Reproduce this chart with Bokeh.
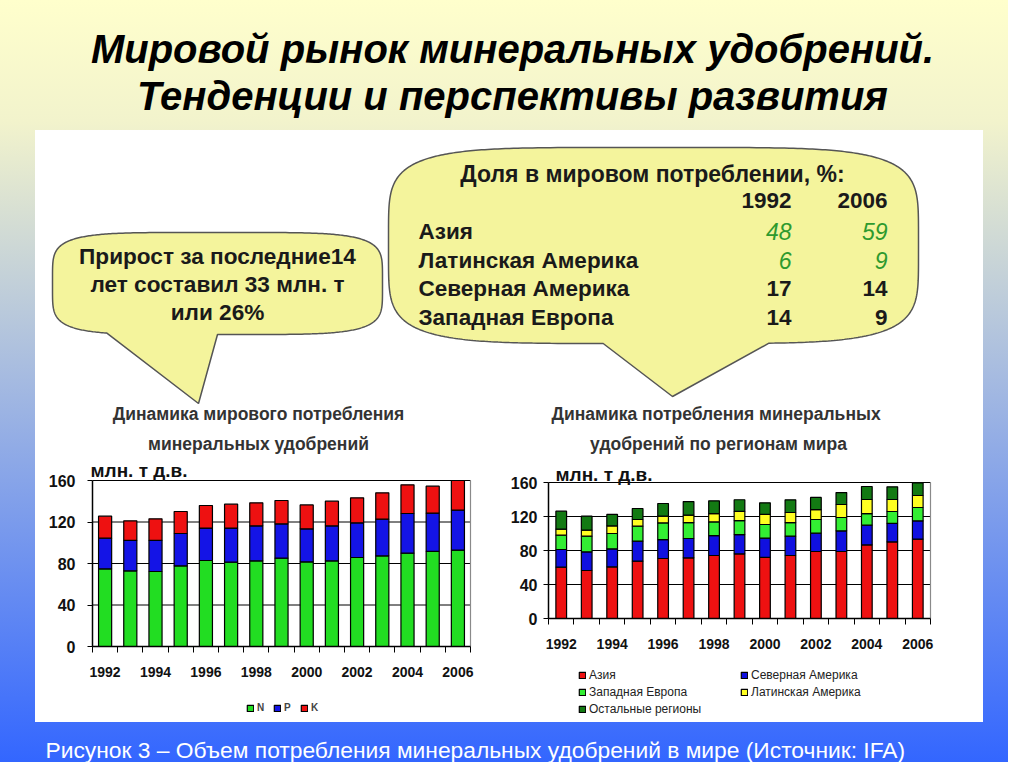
import numpy as np
from bokeh.plotting import figure
from bokeh.models import Range1d, FixedTicker, Label, Legend, LegendItem, Spacer, ColumnDataSource
from bokeh.layouts import column, row
from bokeh.core.properties import value
from bokeh.embed import file_html
from bokeh.resources import INLINE

# ---------------- data ----------------
years = list(range(1992, 2007))
year_labels = [1992, 1994, 1996, 1998, 2000, 2002, 2004, 2006]
y_ticks = [0, 40, 80, 120, 160]

nitrogen = [74.9, 72.9, 72.3, 77.8, 82.9, 81.3, 82.6, 85.1, 81.6, 82.6, 85.8, 87.4, 90.0, 91.6, 92.9]
phosphate = [29.5, 29.3, 29.9, 31.1, 31.2, 32.8, 33.7, 33.1, 31.8, 33.7, 33.4, 35.3, 38.2, 36.9, 38.5]
potash = [21.2, 18.9, 20.9, 21.2, 21.8, 23.1, 22.2, 22.5, 23.1, 23.8, 24.1, 25.4, 27.6, 26.0, 28.6]
nutrient_names = ["N", "P", "K"]

asia = [60.4, 56.5, 60.8, 67.5, 70.6, 71.4, 74.1, 76.1, 71.8, 74.1, 78.8, 78.8, 86.7, 90.2, 93.3]
north_america = [20.8, 21.9, 21.2, 23.5, 22.3, 22.7, 23.5, 22.6, 22.7, 22.8, 21.6, 24.3, 23.1, 21.6, 21.6]
west_europe = [16.8, 18.5, 18.0, 17.6, 19.6, 18.8, 16.1, 16.4, 16.1, 16.0, 16.1, 15.7, 13.7, 14.1, 15.7]
latin_america = [7.1, 7.0, 9.0, 7.9, 7.9, 8.7, 9.8, 10.9, 11.8, 11.8, 11.7, 15.3, 16.5, 14.1, 14.1]
other_regions = [21.2, 16.5, 13.4, 12.9, 14.9, 16.0, 14.9, 13.7, 13.7, 14.9, 14.2, 14.1, 15.3, 14.9, 14.9]
region_names = ["Азия", "Северная Америка", "Западная Европа", "Латинская Америка", "Остальные регионы"]

share_regions = ["Азия", "Латинская Америка", "Северная Америка", "Западная Европа"]
share_1992 = [48, 6, 17, 14]
share_2006 = [59, 9, 14, 9]

slide_title = ["Мировой рынок минеральных удобрений.", "Тенденции и перспективы развития"]
note_left = ["Прирост за последние14", "лет составил 33 млн. т", "или 26%"]
note_right_head = "Доля в мировом потреблении, %:"
left_title = ["Динамика мирового потребления", "минеральных удобрений"]
right_title = ["Динамика  потребления минеральных", "удобрений по регионам мира"]
unit_label = "млн. т д.в."
caption = "Рисунок 3 – Объем потребления минеральных удобрений в мире (Источник: IFA)"

# ---------------- styles ----------------
SANS = "'Liberation Sans', Arial, sans-serif"
CALLOUT_FILL = "#F4F49C"
CALLOUT_LINE = "#555555"
TEXT_DARK = "#1a1a1a"
N_COLORS = ["#22DD22", "#1414E6", "#EE1111"]
R_COLORS = ["#EE1111", "#1010E0", "#33EE33", "#FFFF22", "#137A13"]


def blank_fig(w, h, xr, yr, bg=None):
    p = figure(width=w, height=h, x_range=Range1d(*xr), y_range=Range1d(*yr),
               output_backend="svg", toolbar_location=None,
               x_axis_location=None, y_axis_location=None, min_border=0)
    p.grid.visible = False
    p.outline_line_color = None
    p.background_fill_color = bg
    p.border_fill_color = bg
    return p


# ---------------- header ----------------
header = blank_fig(1008, 130, (0, 1008), (130, 0))
header.text(x=[512, 512], y=[48, 95], text=slide_title, text_align="center",
            text_baseline="middle", text_font=value(SANS), text_font_size="40px",
            text_font_style="bold italic", text_color="black")


# ---------------- callouts ----------------
def callout_shape(cx, cy, a, b, tail_left, tail_right, tip, n=5.0, m=400):
    t = np.linspace(0, 2 * np.pi, m, endpoint=False)
    c, s = np.cos(t), np.sin(t)
    xs = cx + a * np.sign(c) * np.abs(c) ** (2 / n)
    ys = cy + b * np.sign(s) * np.abs(s) ** (2 / n)
    idx = np.where((s > 0) & (xs > tail_left) & (xs < tail_right))[0]
    xs = list(xs[:idx[0]]) + [tip[0]] + list(xs[idx[-1] + 1:])
    ys = list(ys[:idx[0]]) + [tip[1]] + list(ys[idx[-1] + 1:])
    return xs, ys


notes = blank_fig(948, 275, (35, 983), (405, 130), bg="white")
lx, ly = callout_shape(217, 283, 165, 51, 107, 192, (198, 403))
rx, ry = callout_shape(653, 245, 265, 98, 645, 765, (672, 396))
notes.patches(xs=[lx, rx], ys=[ly, ry], fill_color=CALLOUT_FILL, line_color=CALLOUT_LINE, line_width=1.5)

notes.text(x=[217] * len(note_left), y=[256 + 28 * i for i in range(len(note_left))], text=note_left,
           text_align="center", text_baseline="middle", text_font=value(SANS),
           text_font_size="22.6px", text_font_style="bold", text_color=TEXT_DARK)

notes.text(x=[652], y=[173], text=[note_right_head], text_align="center", text_baseline="middle",
           text_font=value(SANS), text_font_size="23px", text_font_style="bold", text_color=TEXT_DARK)
notes.text(x=[791, 887], y=[200, 200], text=["1992", "2006"], text_align="right", text_baseline="middle",
           text_font=value(SANS), text_font_size="22.5px", text_font_style="bold", text_color=TEXT_DARK)
row_y = [231 + 28.5 * i for i in range(len(share_regions))]
notes.text(x=[418] * len(share_regions), y=row_y, text=share_regions, text_align="left",
           text_baseline="middle", text_font=value(SANS), text_font_size="22.5px",
           text_font_style="bold", text_color=TEXT_DARK)
up = [b > a for a, b in zip(share_1992, share_2006)]
for col_x, vals in ((791, share_1992), (887, share_2006)):
    gx = [col_x for u in up if u]
    gy = [y for y, u in zip(row_y, up) if u]
    gt = [str(v) for v, u in zip(vals, up) if u]
    notes.text(x=gx, y=gy, text=gt, text_align="right", text_baseline="middle",
               text_font=value(SANS), text_font_size="23px", text_font_style="italic",
               text_color="#2E9A2E")
    bx = [col_x for u in up if not u]
    by = [y for y, u in zip(row_y, up) if not u]
    bt = [str(v) for v, u in zip(vals, up) if not u]
    notes.text(x=bx, y=by, text=bt, text_align="right", text_baseline="middle",
               text_font=value(SANS), text_font_size="22.5px", text_font_style="bold",
               text_color=TEXT_DARK)


# ---------------- charts ----------------
def make_chart(fig_box, frame_box, tick_standoff):
    """fig_box / frame_box: (left, right, top, bottom) in page pixels."""
    fl, fr, ft, fb = fig_box
    al, ar, at, ab = frame_box
    x0, x1 = years[0] - 0.5, years[-1] + 0.5
    ppx = (ar - al) / (x1 - x0)
    ppy = (ab - at) / (y_ticks[-1] - y_ticks[0])
    xr = Range1d(x0 - (al - fl) / ppx, x1 + (fr - ar) / ppx)
    yr = Range1d(y_ticks[0] - (fb - ab) / ppy, y_ticks[-1] + (at - ft) / ppy)
    p = figure(width=fr - fl, height=fb - ft, x_range=xr, y_range=yr,
               output_backend="svg", toolbar_location=None, min_border=0)
    p.background_fill_color = "white"
    p.border_fill_color = "white"
    p.outline_line_color = None
    p.grid.visible = False
    # gridlines and right border of the plot area
    gl = y_ticks[1:]
    p.segment(x0=[x0] * len(gl), x1=[x1] * len(gl), y0=gl, y1=gl, line_color="black", line_width=1)
    p.segment(x0=[x1], x1=[x1], y0=[y_ticks[0]], y1=[y_ticks[-1]], line_color="#8a8a8a", line_width=1.2)

    xa, ya = p.xaxis[0], p.yaxis[0]
    xa.fixed_location = y_ticks[0]
    xa.bounds = (x0, x1)
    ya.fixed_location = x0
    ya.bounds = (y_ticks[0], y_ticks[-1])
    for ax in (xa, ya):
        ax.axis_line_color = "black"
        ax.axis_line_width = 1.5
        ax.major_label_text_color = "#111111"
        ax.major_label_text_font_style = "bold"
        ax.major_label_text_font = SANS
    xa.ticker = FixedTicker(ticks=year_labels, minor_ticks=[y - 0.5 for y in years] + [x1])
    xa.major_tick_line_color = None
    xa.major_tick_out = 0
    xa.major_tick_in = 0
    xa.minor_tick_line_color = "black"
    xa.minor_tick_out = 6
    xa.minor_tick_in = 0
    xa.major_label_standoff = 14
    xa.major_label_text_font_size = "14px"
    ya.ticker = FixedTicker(ticks=y_ticks)
    ya.minor_tick_line_color = None
    ya.major_tick_line_color = "black"
    ya.major_tick_out = 5
    ya.major_tick_in = 0
    ya.major_label_standoff = tick_standoff
    ya.major_label_text_font_size = "16px"
    return p


def add_labels(p, fig_box, title_lines, cx, ys, ux, uy):
    fl, fr, ft, fb = fig_box
    for t, y in zip(title_lines, ys):
        p.add_layout(Label(x=cx - fl, y=fb - y, x_units="screen", y_units="screen", text=t,
                           text_align="center", text_baseline="middle", text_font=SANS,
                           text_font_size="17.5px", text_font_style="bold", text_color="#333333"))
    p.add_layout(Label(x=ux - fl, y=fb - uy, x_units="screen", y_units="screen", text=unit_label,
                       text_align="left", text_baseline="middle", text_font=SANS,
                       text_font_size="19px", text_font_style="bold", text_color="#111111"))


LEFT_FIG = (35, 495, 405, 722)
LEFT_FRAME = (92, 470, 480, 646)
RIGHT_FIG = (495, 983, 405, 722)
RIGHT_FRAME = (548, 930, 482, 618)

left = make_chart(LEFT_FIG, LEFT_FRAME, 12)
src_l = ColumnDataSource(dict(year=years, N=nitrogen, P=phosphate, K=potash))
rs_l = left.vbar_stack(nutrient_names, x="year", width=0.52, color=N_COLORS,
                       line_color="black", line_width=1.2, source=src_l)
leg_l = Legend(items=[LegendItem(label=n, renderers=[r]) for n, r in zip(nutrient_names, rs_l)],
               location=(246 - LEFT_FIG[0], LEFT_FIG[3] - 713), orientation="horizontal",
               border_line_color=None, background_fill_alpha=0, padding=0, margin=0,
               glyph_width=8, glyph_height=8, label_text_font=SANS, label_text_font_size="10px",
               label_text_font_style="bold", label_standoff=3, spacing=8, label_width=8, label_height=10)
left.add_layout(leg_l)
add_labels(left, LEFT_FIG, left_title, 258, (413, 443), 90, 470)

right = make_chart(RIGHT_FIG, RIGHT_FRAME, 6)
src_r = ColumnDataSource(dict(year=years, a=asia, na=north_america, we=west_europe,
                              la=latin_america, o=other_regions))
rs_r = right.vbar_stack(["a", "na", "we", "la", "o"], x="year", width=0.42, color=R_COLORS,
                        line_color="black", line_width=1.2, source=src_r)
order = [0, 2, 4, 1, 3]
leg_r = Legend(items=[LegendItem(label=region_names[i], renderers=[rs_r[i]]) for i in order],
               location=(578 - RIGHT_FIG[0], RIGHT_FIG[3] - 716), orientation="vertical", nrows=3,
               border_line_color=None, background_fill_alpha=0, padding=0, margin=0,
               glyph_width=8, glyph_height=8, label_text_font=SANS, label_text_font_size="12px",
               label_text_color="#222222", label_standoff=3, spacing=3, label_width=148, label_height=12)
right.add_layout(leg_r)
add_labels(right, RIGHT_FIG, right_title, 718, (413, 443), 555, 474)

# ---------------- footer ----------------
footer = blank_fig(1008, 40, (0, 1008), (762, 722))
footer.text(x=[45], y=[749], text=[caption], text_align="left", text_baseline="middle",
            text_font=value(SANS), text_font_size="22.8px", text_color="white")

charts = row(left, right, spacing=0, styles={"background": "white"})
panel = column(notes, charts, spacing=0, styles={"background": "white"})
middle = row(Spacer(width=35, height=592), panel, Spacer(width=25, height=592), spacing=0)
page = column(header, middle, footer, spacing=0,
              styles={"background": "linear-gradient(to bottom, #FFFFCC 0%, #F2F3CC 16%, #3366FF 100%)"})

open("out.html", "w").write(file_html(page, INLINE))
